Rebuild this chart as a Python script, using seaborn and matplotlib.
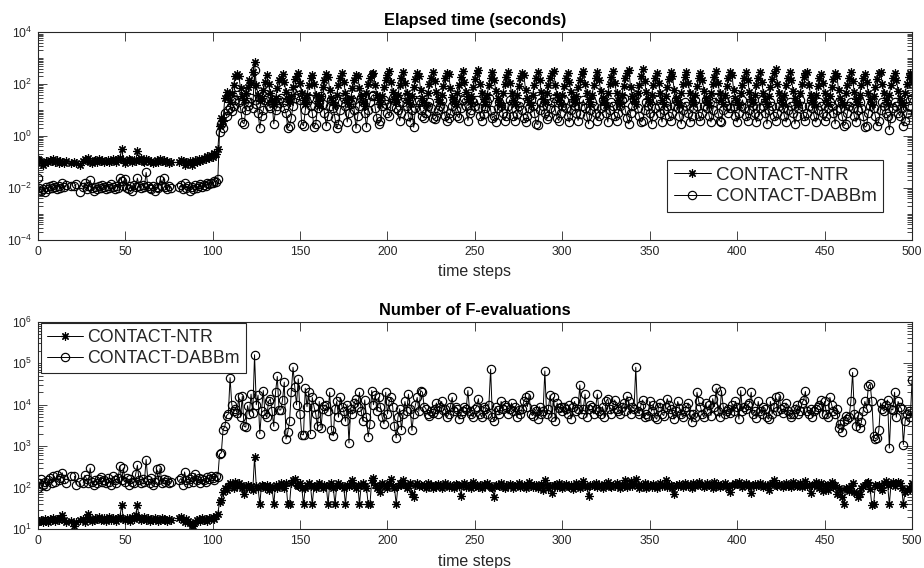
import numpy as np
import pandas as pd
import matplotlib
matplotlib.use('Agg')
import matplotlib.pyplot as plt
import seaborn as sns
from matplotlib.lines import Line2D
from matplotlib.ticker import FixedLocator, LogLocator, LogFormatterMathtext, NullFormatter

nan = np.nan

series_labels = ['CONTACT-NTR', 'CONTACT-DABBm']
panel_titles = ['Elapsed time (seconds)', 'Number of F-evaluations']
x_label = 'time steps'
x_ticks = [0, 50, 100, 150, 200, 250, 300, 350, 400, 450, 500]

## Elapsed time, CONTACT-NTR (one value per time step 0..500)
ntr_time = [
    0.13, 0.12, 0.10, 0.08, 0.09, 0.11, 0.10, 0.12, 0.11, 0.13,
    0.10, 0.12, 0.09, 0.11, 0.10, 0.09, 0.11, nan, nan, 0.09,
    nan, 0.10, 0.09, nan, 0.08, nan, 0.11, 0.13, 0.12, 0.15,
    0.10, 0.09, 0.11, 0.12, 0.10, 0.13, 0.11, 0.12, 0.10, 0.11,
    0.12, 0.10, 0.11, 0.13, 0.12, 0.10, 0.13, 0.15, 0.32, 0.12,
    0.09, 0.11, 0.13, 0.12, 0.10, 0.12, 0.11, 0.26, 0.12, 0.14,
    0.11, 0.10, 0.13, 0.12, 0.10, 0.11, 0.09, 0.10, 0.12, 0.10,
    0.13, 0.11, 0.12, 0.10, 0.11, 0.09, 0.10, nan, nan, nan,
    nan, 0.10, 0.12, 0.11, 0.08, 0.10, 0.09, 0.11, 0.08, 0.10,
    0.12, 0.10, 0.13, 0.11, 0.12, 0.15, 0.13, 0.17, 0.14, 0.18,
    0.16, 0.22, 0.20, 0.32, 2.5, 5.0, 4.0, 30, 50, 40,
    20, 45, 90, 210, 240, 200, 70, 35, 25, 45,
    80, 150, 110, 300, 700, 90, 40, 22, 30, 60,
    120, 220, 100, 45, 25, 18, 30, 70, 150, 180,
    240, 120, 50, 28, 20, 35, 80, 160, 210, 260,
    110, 45, 25, 18, 40, 90, 170, 230, 100, 40,
    22, 15, 35, 80, 150, 250, 190, 60, 30, 20,
    16, 40, 95, 180, 260, 120, 45, 25, 18, 30,
    70, 140, 230, 200, 70, 35, 20, 15, 45, 100,
    170, 240, 280, 90, 40, 25, 18, 35, 80, 150,
    220, 330, 120, 50, 28, 20, 40, 90, 180, 290,
    110, 45, 25, 18, 35, 75, 160, 270, 200, 60,
    30, 20, 16, 45, 100, 180, 300, 130, 50, 28,
    20, 40, 85, 170, 280, 240, 70, 32, 22, 17,
    45, 95, 190, 320, 120, 50, 28, 20, 35, 80,
    160, 260, 360, 100, 45, 26, 18, 40, 90, 180,
    290, 150, 55, 30, 20, 16, 45, 100, 190, 300,
    110, 45, 25, 18, 40, 85, 170, 280, 220, 60,
    30, 20, 16, 40, 95, 180, 300, 140, 50, 28,
    20, 45, 90, 180, 260, 330, 90, 38, 24, 18,
    40, 85, 170, 280, 120, 50, 28, 20, 35, 75,
    150, 250, 310, 100, 45, 26, 18, 40, 90, 180,
    300, 140, 55, 30, 20, 16, 45, 100, 190, 320,
    110, 45, 25, 18, 40, 85, 170, 280, 360, 80,
    35, 22, 17, 45, 95, 200, 380, 130, 50, 28,
    20, 40, 90, 180, 280, 110, 45, 25, 18, 35,
    80, 160, 290, 200, 60, 30, 20, 16, 45, 100,
    190, 300, 110, 45, 25, 18, 40, 85, 170, 270,
    150, 55, 30, 20, 16, 45, 100, 190, 310, 110,
    45, 25, 18, 40, 85, 170, 300, 220, 60, 30,
    20, 16, 45, 95, 180, 290, 140, 50, 28, 20,
    40, 90, 180, 300, 120, 45, 26, 18, 35, 80,
    160, 280, 380, 100, 45, 25, 18, 40, 90, 180,
    290, 150, 55, 30, 20, 16, 45, 100, 190, 280,
    300, 90, 40, 25, 18, 40, 85, 170, 250, 110,
    45, 25, 18, 35, 80, 160, 260, 200, 60, 30,
    20, 16, 45, 95, 180, 290, 130, 50, 28, 20,
    40, 90, 180, 250, 120, 45, 26, 18, 35, 80,
    160, 260, 300, 100, 45, 25, 18, 40, 90, 180,
    280, 150, 55, 30, 20, 16, 45, 100, 190, 260,
    120,
]

## Elapsed time, CONTACT-DABBm
dabbm_time = [
    0.025, 0.010, 0.008, 0.009, 0.007, 0.011, 0.009, 0.012, 0.010, 0.013,
    0.011, 0.009, 0.012, 0.010, 0.015, 0.011, 0.013, nan, nan, 0.012,
    nan, 0.012, 0.014, nan, 0.007, nan, 0.011, 0.016, 0.009, 0.012,
    0.020, 0.010, 0.008, 0.011, 0.009, 0.012, 0.010, 0.013, 0.011, 0.009,
    0.012, 0.010, 0.014, 0.011, 0.009, 0.012, 0.010, 0.025, 0.019, 0.012,
    0.022, 0.010, 0.009, 0.012, 0.008, 0.013, 0.011, 0.024, 0.012, 0.010,
    0.013, 0.011, 0.040, 0.012, 0.010, 0.009, 0.012, 0.008, 0.011, 0.010,
    0.021, 0.012, 0.025, 0.011, 0.009, 0.012, 0.010, nan, nan, nan,
    nan, 0.011, 0.013, 0.009, 0.015, 0.010, 0.012, 0.008, 0.011, 0.009,
    0.013, 0.010, 0.012, 0.014, 0.011, 0.013, 0.012, 0.015, 0.014, 0.016,
    0.015, 0.018, 0.017, 0.022, 1.5, 3.0, 2.0, 8.0, 6.0, 10,
    12, 9, 15, 25, 40, 20, 12, 3.5, 3.0, 10,
    15, 20, 30, 12, 350, 18, 8, 2.0, 6, 10,
    25, 30, 15, 12, 20, 3.0, 10, 15, 25, 30,
    20, 12, 8, 2.0, 2.5, 5, 15, 30, 60, 40,
    25, 3.0, 2.5, 10, 20, 30, 15, 8, 2.2, 3.0,
    12, 20, 35, 18, 8, 2.5, 6, 15, 25, 12,
    5, 2.0, 3.0, 10, 20, 30, 15, 3.5, 8, 18,
    25, 10, 2.0, 6, 15, 30, 20, 8, 2.2, 10,
    20, 35, 40, 12, 5, 3.0, 4, 15, 25, 18,
    8, 6, 15, 30, 25, 12, 10, 4, 8, 20,
    30, 15, 6, 3.5, 10, 2.2, 12, 20, 25, 10,
    6, 5, 8, 15, 20, 12, 5, 4.5, 6, 10,
    15, 25, 12, 6, 4, 5, 8, 15, 20, 10,
    6, 5, 12, 25, 30, 15, 4, 8, 10, 20,
    15, 25, 12, 6, 4, 7, 12, 20, 30, 10,
    5, 6, 3.5, 12, 20, 15, 8, 4, 6, 15,
    25, 12, 6, 4, 7, 15, 20, 10, 5, 3.5,
    6, 12, 25, 15, 8, 3.0, 2.8, 10, 20, 15,
    8, 4.5, 6, 12, 20, 30, 10, 5, 4, 8,
    15, 25, 12, 6, 3.5, 10, 20, 15, 8, 4,
    7, 15, 25, 12, 6, 3.0, 10, 20, 15, 8,
    4, 6, 12, 25, 15, 8, 3.5, 10, 20, 15,
    6, 4, 8, 15, 25, 30, 10, 5, 3.0, 8,
    15, 25, 40, 12, 6, 3.5, 4, 10, 20, 15,
    8, 3.0, 6, 12, 25, 15, 8, 3.5, 10, 20,
    15, 6, 4, 8, 15, 25, 12, 6, 3.0, 10,
    20, 15, 8, 3.5, 6, 12, 25, 15, 6, 4,
    8, 15, 25, 12, 6, 3.5, 10, 20, 30, 8,
    4, 3.5, 10, 20, 15, 8, 12, 25, 15, 6,
    3.5, 8, 15, 25, 12, 6, 4, 10, 20, 15,
    8, 3.5, 6, 12, 25, 15, 8, 3.0, 10, 20,
    15, 6, 4, 8, 15, 25, 12, 6, 3.5, 10,
    20, 15, 8, 3.0, 6, 12, 25, 15, 6, 4,
    8, 15, 25, 12, 6, 3.5, 10, 20, 15, 8,
    4, 6, 12, 20, 15, 8, 3.0, 10, 20, 12,
    6, 2.5, 3.0, 8, 15, 20, 12, 6, 3.5, 10,
    20, 12, 6, 2.2, 2.5, 8, 15, 20, 12, 6,
    2.5, 4, 10, 20, 15, 8, 6, 1.8, 5, 12,
    20, 15, 8, 6, 12, 2.5, 4, 8, 15, 25,
    30,
]

## Number of F-evaluations, CONTACT-NTR
ntr_feval = [
    15, 16, 17, 15, 18, 16, 15, 18, 17, 19,
    16, 18, 17, 19, 22, 17, 15, nan, nan, 16,
    nan, 12, 15, nan, 17, nan, 18, 15, 20, 24,
    18, 16, 17, 19, 18, 20, 17, 18, 19, 16,
    18, 20, 17, 19, 18, 16, 19, 20, 38, 18,
    17, 19, 18, 16, 20, 18, 22, 38, 19, 17,
    18, 20, 17, 19, 16, 18, 17, 19, 18, 16,
    17, 19, 18, 17, 16, 18, 17, nan, nan, nan,
    nan, 19, 20, 17, 15, 18, 16, 14, 13, 12,
    15, 17, 18, 16, 19, 17, 18, 16, 19, 18,
    20, 18, 21, 24, 45, 50, 80, 100, 90, 110,
    130, 120, 100, 140, 110, 130, 120, 100, 70, 110,
    120, 100, 110, 90, 550, 110, 100, 40, 120, 110,
    100, 120, 90, 110, 100, 40, 120, 100, 110, 130,
    110, 100, 130, 40, 40, 130, 150, 160, 120, 110,
    130, 100, 40, 100, 120, 130, 110, 40, 110, 100,
    120, 130, 110, 100, 120, 110, 40, 120, 130, 100,
    40, 110, 130, 120, 110, 100, 40, 120, 110, 130,
    150, 110, 100, 120, 40, 120, 130, 110, 100, 40,
    40, 150, 170, 120, 100, 110, 80, 130, 120, 110,
    100, 130, 160, 110, 100, 40, 110, 130, 120, 150,
    120, 100, 110, 130, 70, 60, 120, 130, 110, 120,
    110, 120, 100, 130, 110, 120, 100, 115, 105, 125,
    120, 100, 110, 130, 115, 105, 120, 110, 100, 125,
    115, 110, 65, 120, 130, 105, 110, 120, 100, 135,
    110, 120, 105, 115, 100, 125, 110, 130, 120, 105,
    100, 60, 115, 120, 110, 130, 105, 100, 120, 110,
    125, 115, 100, 110, 120, 130, 105, 110, 115, 100,
    120, 135, 110, 105, 120, 115, 100, 110, 125, 90,
    150, 120, 100, 110, 75, 120, 115, 105, 130, 110,
    100, 115, 125, 110, 105, 120, 95, 110, 130, 115,
    100, 120, 145, 110, 105, 65, 120, 115, 110, 130,
    105, 120, 110, 100, 125, 115, 140, 110, 105, 120,
    110, 130, 115, 100, 120, 110, 150, 105, 120, 145,
    110, 125, 160, 115, 100, 120, 110, 130, 100, 115,
    120, 105, 125, 110, 100, 115, 130, 110, 120, 150,
    105, 115, 120, 100, 70, 115, 110, 125, 120, 105,
    130, 120, 110, 115, 100, 130, 110, 125, 140, 115,
    120, 105, 110, 130, 115, 120, 100, 140, 110, 125,
    105, 115, 120, 130, 110, 100, 80, 120, 115, 130,
    125, 140, 115, 105, 120, 130, 110, 120, 75, 115,
    125, 110, 120, 130, 115, 105, 120, 110, 90, 125,
    130, 155, 115, 110, 125, 120, 105, 115, 130, 110,
    120, 105, 140, 115, 110, 120, 130, 105, 115, 145,
    110, 120, 75, 115, 120, 140, 110, 100, 130, 85,
    120, 110, 90, 125, 135, 105, 115, 70, 100, 90,
    60, 40, 100, 95, 85, 110, 130, 80, 75, 60,
    70, 100, 110, 115, 130, 140, 95, 38, 40, 120,
    110, 115, 100, 90, 130, 145, 120, 40, 125, 140,
    110, 130, 140, 130, 100, 40, 80, 90, 100, 95,
    130,
]

## Number of F-evaluations, CONTACT-DABBm
dabbm_feval = [
    100, 130, 160, 120, 140, 110, 150, 170, 130, 190,
    140, 200, 150, 170, 230, 160, 130, nan, nan, 190,
    nan, 190, 120, nan, 140, nan, 130, 200, 160, 130,
    300, 140, 120, 150, 130, 160, 180, 140, 150, 130,
    170, 140, 120, 190, 150, 130, 170, 330, 150, 300,
    140, 170, 120, 160, 140, 130, 210, 350, 150, 130,
    160, 140, 480, 150, 130, 170, 120, 140, 280, 150,
    300, 130, 160, 140, 150, 130, 140, nan, nan, nan,
    nan, 150, 170, 120, 240, 150, 130, 160, 180, 140,
    220, 150, 170, 130, 160, 150, 140, 180, 160, 190,
    170, 150, 190, 180, 650, 700, 2500, 3000, 5500, 6000,
    45000, 10000, 7000, 8000, 6500, 15000, 5000, 16000, 3000, 2900,
    9500, 6000, 18000, 6500, 160000, 10000, 17000, 2000, 7000, 22000,
    6000, 5000, 12000, 14000, 7000, 3000, 20000, 48000, 7500, 7500,
    13000, 35000, 1500, 2200, 4000, 20000, 80000, 27000, 10000, 42000,
    6000, 1900, 1900, 25000, 9000, 20000, 2000, 15000, 9000, 6000,
    3000, 12000, 2800, 8000, 9500, 10000, 7000, 20000, 2500, 1800,
    8000, 12000, 5000, 15000, 9000, 7000, 4000, 10000, 1200, 8000,
    6000, 11000, 14000, 9000, 20000, 7000, 4000, 13000, 5000, 1700,
    3500, 22000, 10000, 17000, 7000, 15000, 9000, 5000, 3500, 20000,
    6000, 12000, 15000, 9000, 3000, 1600, 5000, 8000, 2500, 6000,
    12000, 7000, 18000, 8000, 2400, 6000, 10000, 15000, 7000, 22000,
    20000, 9000, 8000, 6000, 5500, 7000, 6500, 8000, 11000, 6000,
    9000, 12000, 7500, 8000, 5000, 6000, 9000, 15000, 7000, 9000,
    8000, 4500, 6000, 7000, 9000, 8000, 22000, 7000, 6000, 5000,
    8000, 9000, 14000, 6000, 5000, 9000, 8000, 6000, 10000, 72000,
    5000, 4000, 9000, 7500, 6000, 12000, 8000, 10000, 9000, 6000,
    8000, 11000, 7000, 9000, 5000, 7500, 6000, 8000, 12000, 15000,
    9000, 17000, 6000, 5500, 8000, 7000, 4500, 9000, 6000, 7000,
    65000, 6000, 8000, 17000, 5000, 15000, 4000, 11000, 8500, 9000,
    7000, 9000, 8000, 6000, 10000, 4500, 9000, 12000, 7000, 8000,
    30000, 6000, 8000, 18000, 5000, 8000, 10000, 9000, 6000, 8000,
    18000, 7000, 6000, 9000, 5000, 12000, 14000, 8000, 6000, 10000,
    13000, 8000, 7000, 6000, 9000, 11000, 7000, 16000, 12000, 6000,
    9000, 8000, 80000, 7000, 6000, 10000, 13000, 5000, 6000, 5500,
    12000, 7000, 10000, 5000, 4500, 9000, 11000, 6000, 5500, 9000,
    14000, 10000, 8000, 6000, 4500, 7000, 12000, 8500, 6000, 5000,
    7000, 9000, 11000, 6000, 3800, 6000, 5000, 20000, 12000, 9000,
    6000, 5000, 11000, 7000, 10000, 5500, 14000, 9000, 25000, 7000,
    5000, 22000, 9000, 6000, 7000, 8000, 6500, 10000, 7000, 12000,
    9000, 4500, 22000, 7000, 9000, 8000, 10000, 11000, 20000, 6000,
    7000, 4800, 12000, 7000, 6000, 9000, 8000, 5000, 4500, 12000,
    6000, 9000, 15000, 7000, 16000, 8000, 6500, 9000, 11000, 7000,
    6000, 5000, 6000, 8000, 10000, 6000, 7000, 11000, 13000, 21000,
    7000, 6000, 8000, 5000, 7000, 8000, 9000, 10000, 13000, 6000,
    12000, 6000, 5000, 15000, 10000, 7000, 6000, 8000, 2800, 3500,
    2200, 4000, 5500, 4500, 5000, 12000, 60000, 6000, 3000, 5500,
    2800, 3800, 7000, 12000, 8500, 28000, 32000, 12000, 1800, 1500,
    1600, 2400, 11000, 8000, 7000, 10000, 13000, 900, 8000, 7500,
    20000, 5000, 12000, 9000, 8000, 1100, 4000, 6000, 7000, 5000,
    40000,
]

INK = '#262626'
STAR = (8, 2, 0)   # asterisk, like the MATLAB '*' marker
MS = 6


def draw_series(p_ax, p_values, p_marker, p_face):
    """Desenha uma serie; os NaN cortam a linha em segmentos."""
    df = pd.DataFrame({'step': np.arange(len(p_values)), 'value': p_values})
    df['seg'] = df['value'].isna().cumsum()
    df = df.dropna()
    sns.lineplot(data=df, x='step', y='value', units='seg', estimator=None,
                 color='k', linewidth=0.7, marker=p_marker, markersize=MS,
                 markerfacecolor=p_face, markeredgecolor='k', markeredgewidth=0.85,
                 legend=False, ax=p_ax)


def style_axis(p_ax, p_title, p_ylim, p_major):
    p_ax.set_yscale('log')
    p_ax.set_xlim(0, 500)
    p_ax.set_ylim(*p_ylim)
    p_ax.set_xticks(x_ticks)
    p_ax.yaxis.set_major_locator(FixedLocator(p_major))
    p_ax.yaxis.set_major_formatter(LogFormatterMathtext())
    p_ax.yaxis.set_minor_locator(LogLocator(base=10, subs=np.arange(1, 10), numticks=100))
    p_ax.yaxis.set_minor_formatter(NullFormatter())
    p_ax.tick_params(which='both', direction='in', bottom=True, left=True,
                     top=True, right=True, colors=INK, labelsize=8.8, width=0.6)
    p_ax.tick_params(which='major', length=6.5, pad=4)
    p_ax.tick_params(which='minor', length=3.5)
    p_ax.tick_params(axis='x', which='minor', bottom=False, top=False)
    p_ax.set_title(p_title, fontsize=11.8, fontweight='bold', color='k', pad=5)
    p_ax.set_xlabel(x_label, fontsize=11.5, color=INK, labelpad=5)
    p_ax.set_ylabel('')
    for spine in p_ax.spines.values():
        spine.set_color(INK)
        spine.set_linewidth(0.8)


sns.set_style('white')
plt.rcParams['font.family'] = ['Liberation Sans', 'DejaVu Sans']
plt.rcParams['mathtext.default'] = 'regular'

fig = plt.figure(figsize=(9.24, 5.68), dpi=100)
ax_top = fig.add_axes([0.0408, 0.5775, 0.9463, 0.3656])
ax_bot = fig.add_axes([0.0408, 0.0681, 0.9463, 0.3655])

draw_series(ax_top, ntr_time, STAR, 'k')
draw_series(ax_top, dabbm_time, 'o', 'none')
draw_series(ax_bot, ntr_feval, STAR, 'k')
draw_series(ax_bot, dabbm_feval, 'o', 'none')

style_axis(ax_top, panel_titles[0], (1e-4, 1e4), [1e-4, 1e-2, 1e0, 1e2, 1e4])
style_axis(ax_bot, panel_titles[1], (1e1, 1e6), [1e1, 1e2, 1e3, 1e4, 1e5, 1e6])

handles = [Line2D([], [], color='k', lw=0.7, marker=STAR, ms=MS, mew=0.85),
           Line2D([], [], color='k', lw=0.7, marker='o', ms=MS, mfc='none', mew=0.85)]
leg_kw = dict(frameon=True, fancybox=False, framealpha=1,
              edgecolor=INK, handlelength=2.0, handletextpad=0.25,
              borderpad=0.35, labelspacing=0.25, borderaxespad=0)
leg1 = ax_top.legend(handles, series_labels, loc='lower right', fontsize=13.5,
                     bbox_to_anchor=(0.967, 0.135), **leg_kw)
leg2 = ax_bot.legend(handles, series_labels, loc='upper left', fontsize=12.8,
                     bbox_to_anchor=(0.004, 0.996), **leg_kw)
for leg in (leg1, leg2):
    leg.get_frame().set_linewidth(0.8)

fig.savefig('out.png', dpi=100)
